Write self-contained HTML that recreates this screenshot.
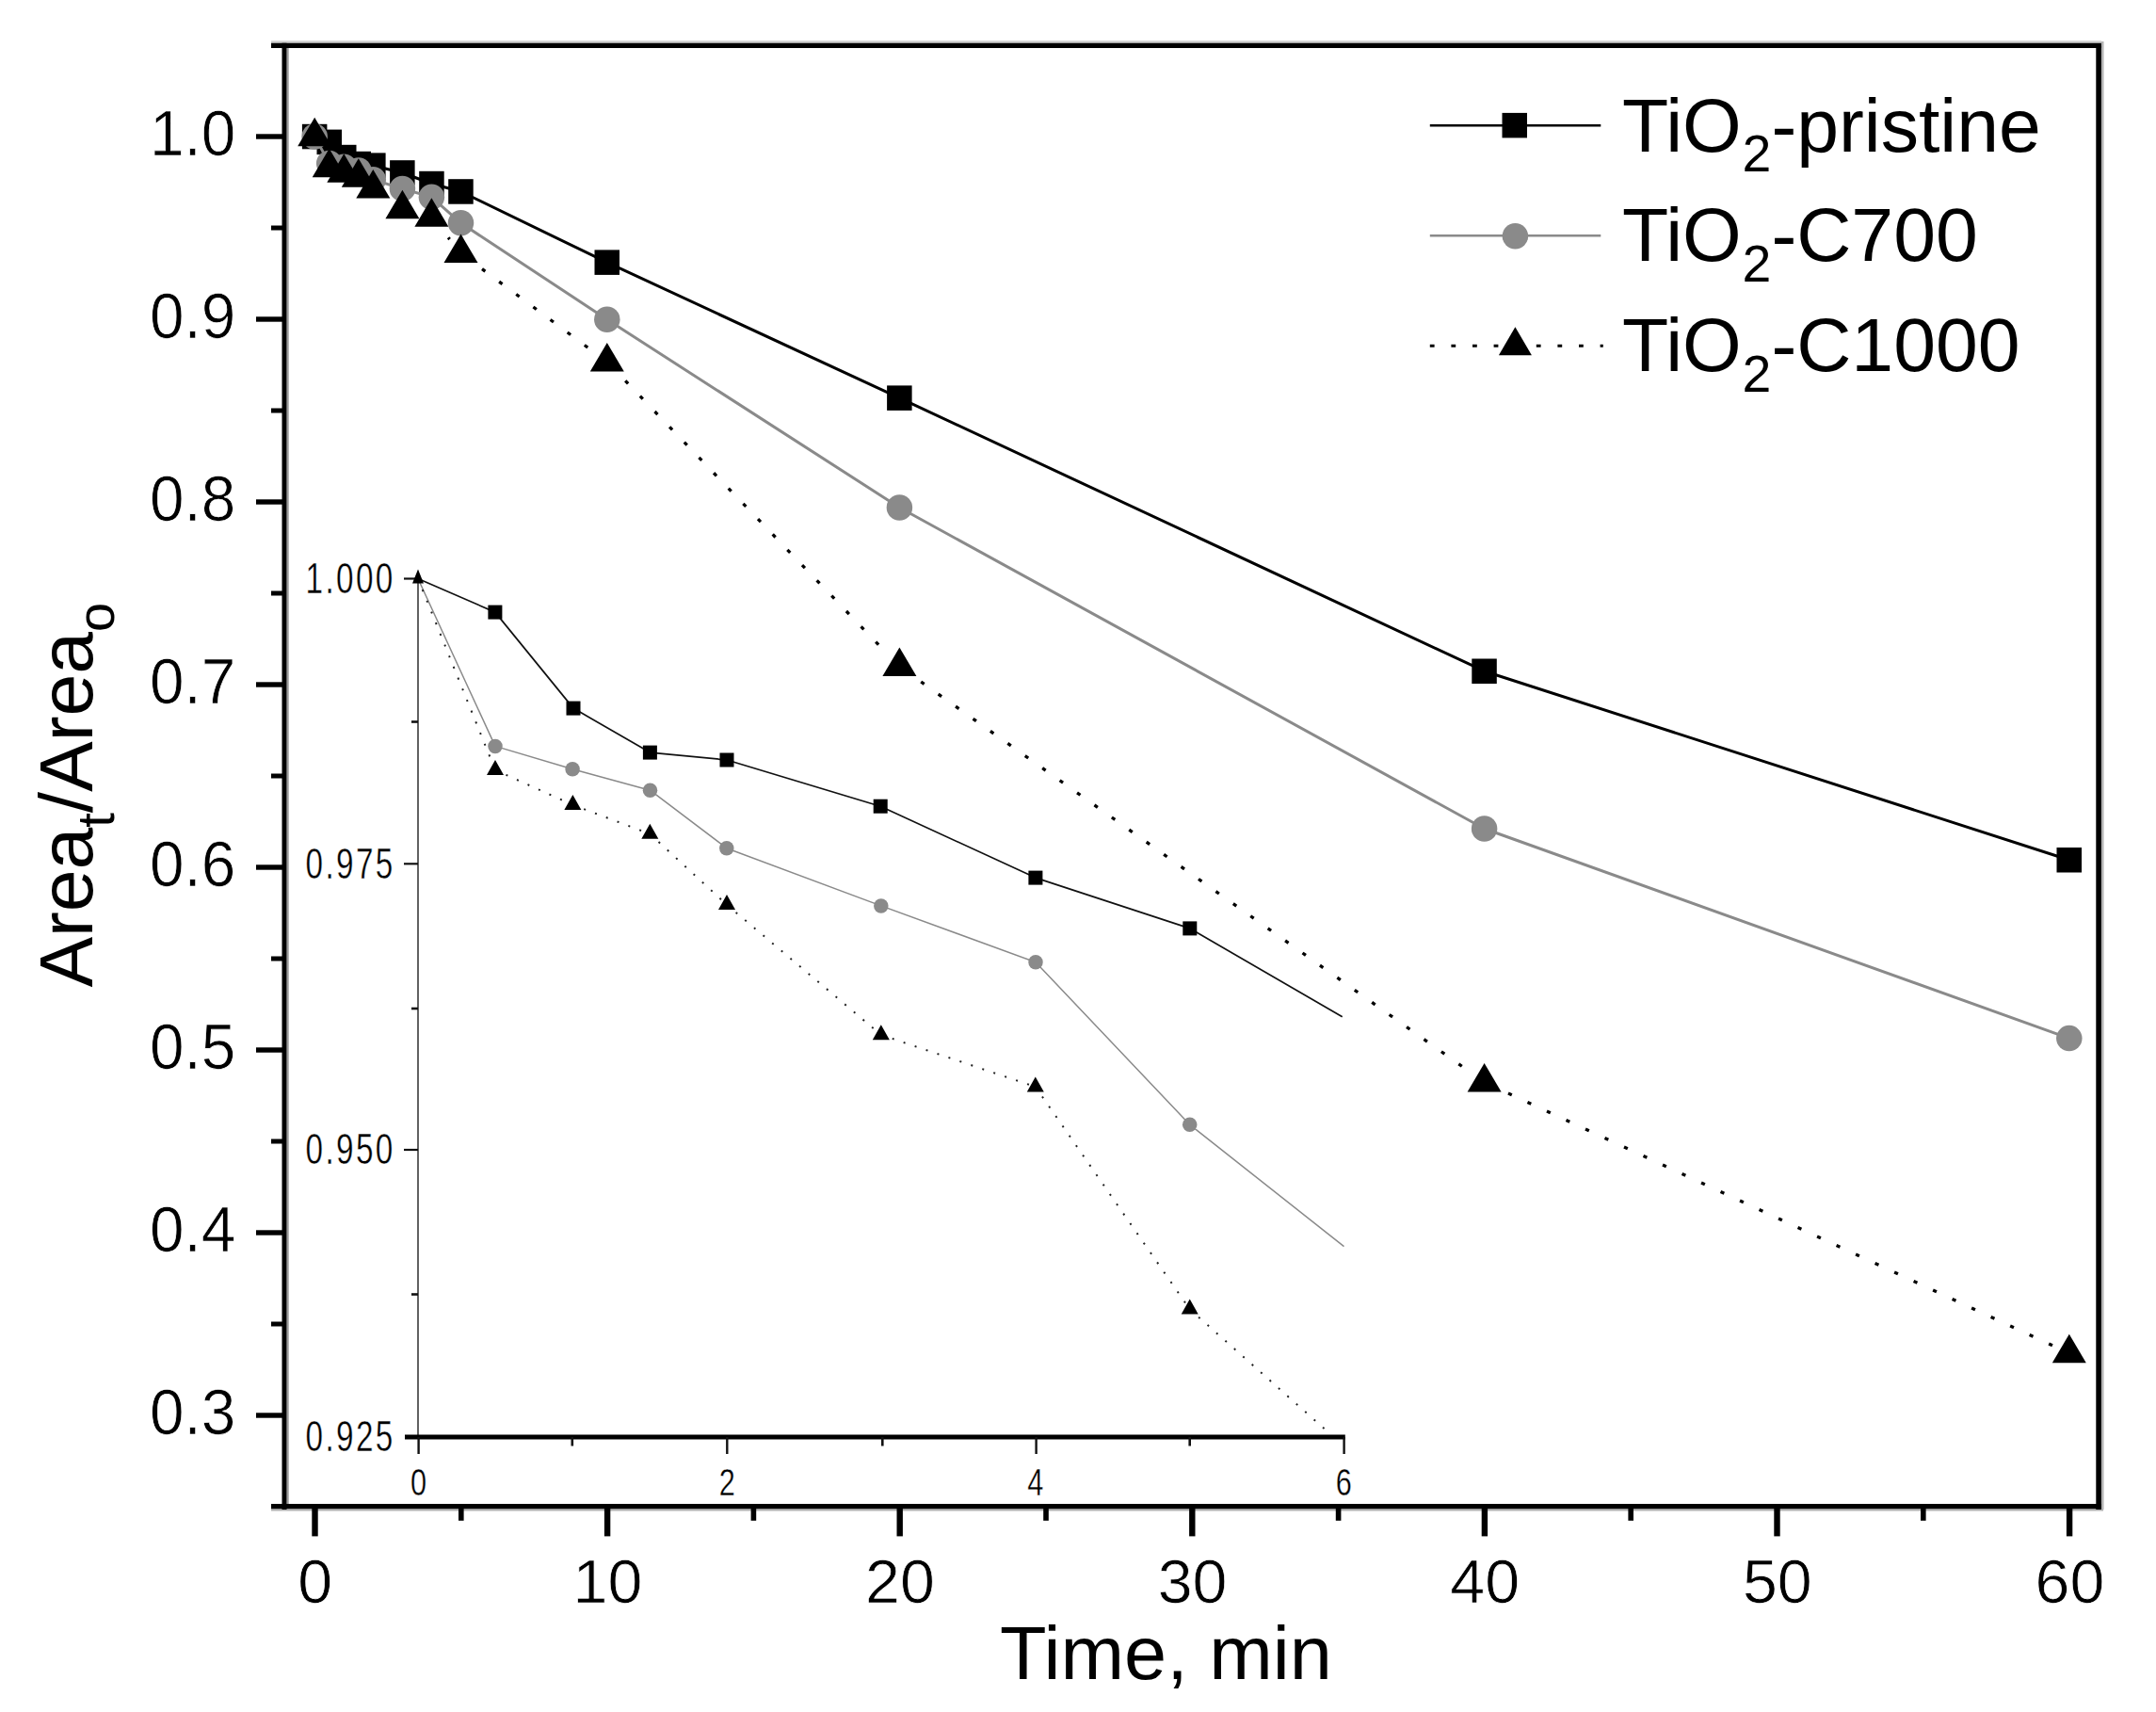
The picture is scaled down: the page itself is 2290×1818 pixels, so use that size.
<!DOCTYPE html>
<html lang="en"><head><meta charset="utf-8"><title>Area ratio vs time</title>
<style>html,body{margin:0;padding:0;background:#fff}svg{display:block}text{font-family:"Liberation Sans", Arial, Helvetica, sans-serif;fill:#000}</style></head><body>
<svg width="2290" height="1818" viewBox="0 0 2290 1818">
<rect width="2290" height="1818" fill="#fff"/>
<path d="M288 44.6H2232" stroke="#cfcfcf" stroke-width="2.6" fill="none"/>
<path d="M2233.2 44V1603" stroke="#b4b4b4" stroke-width="2.6" fill="none"/>
<path d="M305.6 51V1597" stroke="#9a9a9a" stroke-width="2.2" fill="none"/>
<path d="M288 1603.4H2234" stroke="#b0b0b0" stroke-width="2.2" fill="none"/>
<g id="inset-axes">
<path d="M444 613.5V1526" stroke="#3a3a3a" stroke-width="1.6" fill="none"/>
<path d="M430 1526.1H1428.8" stroke="#000" stroke-width="5" fill="none"/>
<path d="M429 614.5H444" stroke="#111" stroke-width="2.2" fill="none"/>
<path d="M429 917.3H444" stroke="#111" stroke-width="2.2" fill="none"/>
<path d="M429 1221H444" stroke="#111" stroke-width="2.2" fill="none"/>
<path d="M437 766.5H444" stroke="#111" stroke-width="2.6" fill="none"/>
<path d="M437 1071H444" stroke="#111" stroke-width="2.6" fill="none"/>
<path d="M437 1374.5H444" stroke="#111" stroke-width="2.6" fill="none"/>
<path d="M444.6 1526V1544" stroke="#111" stroke-width="2.4" fill="none"/>
<path d="M772.3 1526V1544" stroke="#111" stroke-width="2.4" fill="none"/>
<path d="M1100.6 1526V1544" stroke="#111" stroke-width="2.4" fill="none"/>
<path d="M1427.6 1526V1544" stroke="#111" stroke-width="2.4" fill="none"/>
<path d="M607.8 1526V1535.5" stroke="#111" stroke-width="2.6" fill="none"/>
<path d="M937.3 1526V1535.5" stroke="#111" stroke-width="2.6" fill="none"/>
<path d="M1263.7 1526V1535.5" stroke="#111" stroke-width="2.6" fill="none"/>
</g>
<g id="inset-labels" font-size="37" stroke="#fff" stroke-width="0.35">
<text transform="translate(419.6 629.9) scale(0.9 1.26)" text-anchor="end" letter-spacing="2.6">1.000</text>
<text transform="translate(419.6 932.7) scale(0.9 1.26)" text-anchor="end" letter-spacing="2.6">0.975</text>
<text transform="translate(419.6 1236.4) scale(0.9 1.26)" text-anchor="end" letter-spacing="2.6">0.950</text>
<text transform="translate(419.6 1540.7) scale(0.9 1.26)" text-anchor="end" letter-spacing="2.6">0.925</text>
<text transform="translate(444.5 1588.2) scale(0.83 1.10)" text-anchor="middle">0</text>
<text transform="translate(772.3 1588.2) scale(0.83 1.10)" text-anchor="middle">2</text>
<text transform="translate(1099.8 1588.2) scale(0.83 1.10)" text-anchor="middle">4</text>
<text transform="translate(1427.3 1588.2) scale(0.83 1.10)" text-anchor="middle">6</text>
</g>
<g id="inset-series">
<path d="M444.0 614.5L525.9 650.1M525.9 650.1L609.0 752.1M609.0 752.1L690.4 799.1M690.4 799.1L772.0 807.0M772.0 807.0L935.2 856.2M935.2 856.2L1099.9 932.1M1099.9 932.1L1263.8 985.9M1263.8 985.9L1425.7 1079.8" fill="none" stroke="#111" stroke-width="1.7"/>
<rect x="518.4" y="642.6" width="15" height="15" fill="#000"/>
<rect x="601.5" y="744.6" width="15" height="15" fill="#000"/>
<rect x="682.9" y="791.6" width="15" height="15" fill="#000"/>
<rect x="764.5" y="799.5" width="15" height="15" fill="#000"/>
<rect x="927.7" y="848.7" width="15" height="15" fill="#000"/>
<rect x="1092.4" y="924.6" width="15" height="15" fill="#000"/>
<rect x="1256.3" y="978.4" width="15" height="15" fill="#000"/>
<path d="M444.0 614.5L526.0 792.4M526.0 792.4L608.1 816.7M608.1 816.7L690.5 839.2M690.5 839.2L771.8 900.7M771.8 900.7L935.8 961.9M935.8 961.9L1100.0 1021.8M1100.0 1021.8L1263.7 1194.3M1263.7 1194.3L1427.5 1323.6" fill="none" stroke="#8a8a8a" stroke-width="1.5"/>
<circle cx="526.0" cy="792.4" r="7.75" fill="#8a8a8a"/>
<circle cx="608.1" cy="816.7" r="7.75" fill="#8a8a8a"/>
<circle cx="690.5" cy="839.2" r="7.75" fill="#8a8a8a"/>
<circle cx="771.8" cy="900.7" r="7.75" fill="#8a8a8a"/>
<circle cx="935.8" cy="961.9" r="7.75" fill="#8a8a8a"/>
<circle cx="1100.0" cy="1021.8" r="7.75" fill="#8a8a8a"/>
<circle cx="1263.7" cy="1194.3" r="7.75" fill="#8a8a8a"/>
<path d="M444.0 614.5L526.0 817.7M526.0 817.7L608.4 854.7M608.4 854.7L690.3 885.5M690.3 885.5L772.0 960.8M772.0 960.8L935.8 1098.9M935.8 1098.9L1099.8 1154.1M1099.8 1154.1L1263.7 1390.3M1263.7 1390.3L1413.2 1523.0" fill="none" stroke="#222" stroke-width="2.0" stroke-dasharray="2 10.6"/>
<path d="M444.0 604.5L450.0 619.5L438.0 619.5Z" fill="#000"/>
<path d="M526.0 807.0L535.0 823.0L517.0 823.0Z" fill="#000"/>
<path d="M608.4 844.0L617.4 860.0L599.4 860.0Z" fill="#000"/>
<path d="M690.3 874.8L699.3 890.8L681.3 890.8Z" fill="#000"/>
<path d="M772.0 950.1L781.0 966.1L763.0 966.1Z" fill="#000"/>
<path d="M935.8 1088.2L944.8 1104.2L926.8 1104.2Z" fill="#000"/>
<path d="M1099.8 1143.4L1108.8 1159.4L1090.8 1159.4Z" fill="#000"/>
<path d="M1263.7 1379.6L1272.7 1395.6L1254.7 1395.6Z" fill="#000"/>
</g>
<g id="main-series">
<path d="M334.2 145.0L349.7 150.8M349.7 150.8L365.3 167.1M365.3 167.1L380.8 174.0M380.8 174.0L396.3 175.7M396.3 175.7L427.4 183.5M427.4 183.5L458.4 195.0M458.4 195.0L489.5 203.5M489.5 203.5L644.8 278.7M644.8 278.7L955.4 422.6M955.4 422.6L1576.6 712.7M1576.6 712.7L2197.8 913.3" fill="none" stroke="#000" stroke-width="3.0"/>
<rect x="320.9" y="131.8" width="26.5" height="26.5" fill="#000"/>
<rect x="336.5" y="137.6" width="26.5" height="26.5" fill="#000"/>
<rect x="352.0" y="153.8" width="26.5" height="26.5" fill="#000"/>
<rect x="367.5" y="160.8" width="26.5" height="26.5" fill="#000"/>
<rect x="383.1" y="162.4" width="26.5" height="26.5" fill="#000"/>
<rect x="414.1" y="170.2" width="26.5" height="26.5" fill="#000"/>
<rect x="445.2" y="181.8" width="26.5" height="26.5" fill="#000"/>
<rect x="476.2" y="190.2" width="26.5" height="26.5" fill="#000"/>
<rect x="631.5" y="265.4" width="26.5" height="26.5" fill="#000"/>
<rect x="942.1" y="409.4" width="26.5" height="26.5" fill="#000"/>
<rect x="1563.3" y="699.5" width="26.5" height="26.5" fill="#000"/>
<rect x="2184.5" y="900.0" width="26.5" height="26.5" fill="#000"/>
<path d="M334.2 145.0L349.7 173.4M349.7 173.4L365.3 177.3M365.3 177.3L380.8 180.9M380.8 180.9L396.3 190.7M396.3 190.7L427.4 200.4M427.4 200.4L458.4 209.3M458.4 209.3L489.5 236.8M489.5 236.8L644.8 339.3M644.8 339.3L955.4 539.0M955.4 539.0L1576.6 880.0M1576.6 880.0L2197.8 1102.6" fill="none" stroke="#8a8a8a" stroke-width="3.0"/>
<circle cx="334.2" cy="145.0" r="13.75" fill="#8a8a8a"/>
<circle cx="349.7" cy="173.4" r="13.75" fill="#8a8a8a"/>
<circle cx="365.3" cy="177.3" r="13.75" fill="#8a8a8a"/>
<circle cx="380.8" cy="180.9" r="13.75" fill="#8a8a8a"/>
<circle cx="396.3" cy="190.7" r="13.75" fill="#8a8a8a"/>
<circle cx="427.4" cy="200.4" r="13.75" fill="#8a8a8a"/>
<circle cx="458.4" cy="209.3" r="13.75" fill="#8a8a8a"/>
<circle cx="489.5" cy="236.8" r="13.75" fill="#8a8a8a"/>
<circle cx="644.8" cy="339.3" r="13.75" fill="#8a8a8a"/>
<circle cx="955.4" cy="539.0" r="13.75" fill="#8a8a8a"/>
<circle cx="1576.6" cy="880.0" r="13.75" fill="#8a8a8a"/>
<circle cx="2197.8" cy="1102.6" r="13.75" fill="#8a8a8a"/>
<path d="M470.4 245.3L477.6 254.1M504.8 280.2L629.5 372.9M658.0 397.9L942.2 694.1M970.9 718.8L1561.1 1138.2M1593.8 1157.2L2180.6 1429.0" fill="none" stroke="#000" stroke-width="3.3" stroke-dasharray="4.2 18.4" stroke-dashoffset="13.6"/>
<path d="M334.2 124.7L352.2 155.2L316.2 155.2Z" fill="#000"/>
<path d="M349.7 157.7L367.7 188.2L331.7 188.2Z" fill="#000"/>
<path d="M365.3 163.2L383.3 193.7L347.3 193.7Z" fill="#000"/>
<path d="M380.8 168.3L398.8 198.8L362.8 198.8Z" fill="#000"/>
<path d="M396.3 180.0L414.3 210.5L378.3 210.5Z" fill="#000"/>
<path d="M427.4 201.7L445.4 232.2L409.4 232.2Z" fill="#000"/>
<path d="M458.4 210.2L476.4 240.7L440.4 240.7Z" fill="#000"/>
<path d="M489.5 248.6L507.5 279.1L471.5 279.1Z" fill="#000"/>
<path d="M644.8 363.9L662.8 394.4L626.8 394.4Z" fill="#000"/>
<path d="M955.4 687.5L973.4 718.0L937.4 718.0Z" fill="#000"/>
<path d="M1576.6 1128.9L1594.6 1159.4L1558.6 1159.4Z" fill="#000"/>
<path d="M2197.8 1416.7L2215.8 1447.2L2179.8 1447.2Z" fill="#000"/>
</g>
<g id="frame" stroke="#000" fill="none">
<path d="M288 48.4H2231.9" stroke-width="5.2"/>
<path d="M2229.1 48.4V1603.0" stroke-width="5.6"/>
<path d="M302.0 45.8V1603.0" stroke-width="5"/>
<path d="M288 1599.6H2231.9" stroke-width="5.4"/>
</g>
<g id="ticks" stroke="#000" fill="none">
<path d="M272 145.0H302.0" stroke-width="5.4"/>
<path d="M272 339.0H302.0" stroke-width="5.4"/>
<path d="M272 533.0H302.0" stroke-width="5.4"/>
<path d="M272 727.0H302.0" stroke-width="5.4"/>
<path d="M272 921.0H302.0" stroke-width="5.4"/>
<path d="M272 1115.0H302.0" stroke-width="5.4"/>
<path d="M272 1309.0H302.0" stroke-width="5.4"/>
<path d="M272 1503.0H302.0" stroke-width="5.4"/>
<path d="M288 242.0H302.0" stroke-width="5"/>
<path d="M288 436.0H302.0" stroke-width="5"/>
<path d="M288 630.0H302.0" stroke-width="5"/>
<path d="M288 824.0H302.0" stroke-width="5"/>
<path d="M288 1018.0H302.0" stroke-width="5"/>
<path d="M288 1212.0H302.0" stroke-width="5"/>
<path d="M288 1406.0H302.0" stroke-width="5"/>
<path d="M334.5 1600.0V1631.4" stroke-width="6.4"/>
<path d="M645.1 1600.0V1631.4" stroke-width="6.4"/>
<path d="M955.7 1600.0V1631.4" stroke-width="6.4"/>
<path d="M1266.3 1600.0V1631.4" stroke-width="6.4"/>
<path d="M1576.9 1600.0V1631.4" stroke-width="6.4"/>
<path d="M1887.5 1600.0V1631.4" stroke-width="6.4"/>
<path d="M2198.1 1600.0V1631.4" stroke-width="6.4"/>
<path d="M489.8 1600.0V1614.8" stroke-width="5.6"/>
<path d="M800.4 1600.0V1614.8" stroke-width="5.6"/>
<path d="M1111.0 1600.0V1614.8" stroke-width="5.6"/>
<path d="M1421.6 1600.0V1614.8" stroke-width="5.6"/>
<path d="M1732.2 1600.0V1614.8" stroke-width="5.6"/>
<path d="M2042.8 1600.0V1614.8" stroke-width="5.6"/>
</g>
<g id="tick-labels" font-size="65.7" stroke="#fff" stroke-width="0.7">
<text transform="translate(250.4 165.2) scale(1 1.045)" text-anchor="end">1.0</text>
<text transform="translate(250.4 359.2) scale(1 1.045)" text-anchor="end">0.9</text>
<text transform="translate(250.4 553.2) scale(1 1.045)" text-anchor="end">0.8</text>
<text transform="translate(250.4 747.2) scale(1 1.045)" text-anchor="end">0.7</text>
<text transform="translate(250.4 941.2) scale(1 1.045)" text-anchor="end">0.6</text>
<text transform="translate(250.4 1135.2) scale(1 1.045)" text-anchor="end">0.5</text>
<text transform="translate(250.4 1329.2) scale(1 1.045)" text-anchor="end">0.4</text>
<text transform="translate(250.4 1523.2) scale(1 1.045)" text-anchor="end">0.3</text>
<text transform="translate(334.8 1702.2) scale(1.01 1.0)" text-anchor="middle">0</text>
<text transform="translate(645.4 1702.2) scale(1.01 1.0)" text-anchor="middle">10</text>
<text transform="translate(956.0 1702.2) scale(1.01 1.0)" text-anchor="middle">20</text>
<text transform="translate(1266.6 1702.2) scale(1.01 1.0)" text-anchor="middle">30</text>
<text transform="translate(1577.2 1702.2) scale(1.01 1.0)" text-anchor="middle">40</text>
<text transform="translate(1887.8 1702.2) scale(1.01 1.0)" text-anchor="middle">50</text>
<text transform="translate(2198.4 1702.2) scale(1.01 1.0)" text-anchor="middle">60</text>
</g>
<text transform="translate(1238.4 1783.2) scale(1.019 1)" font-size="79.6" text-anchor="middle">Time, min</text>
<text transform="translate(97.6 1048.6) rotate(-90)" font-size="80.4">Area<tspan font-size="56" dy="23">t</tspan><tspan dy="-23">/Area</tspan><tspan font-size="56" dy="23">o</tspan></text>
<g id="legend">
<path d="M1518.8 133.2H1700.3" stroke="#000" stroke-width="2.4" fill="none"/>
<rect x="1595.5" y="119.9" width="26.5" height="26.5" fill="#000"/>
<path d="M1518.8 250.3H1700.3" stroke="#8a8a8a" stroke-width="2.6" fill="none"/>
<circle cx="1609.4" cy="250.7" r="13.75" fill="#8a8a8a"/>
<path d="M1518.8 367.3H1702.8" stroke="#000" stroke-width="3.1" stroke-dasharray="4.8 17.8" fill="none"/>
<path d="M1609.4 347.3L1626.9 377.3L1591.9 377.3Z" fill="#000"/>
<text transform="translate(1723 161.2) scale(1.007 1)" font-size="80">TiO<tspan font-size="55" dx="0.8" dy="21.2">2</tspan><tspan dy="-21.2">-pristine</tspan></text>
<text transform="translate(1723 277.4) scale(1.007 1)" font-size="80">TiO<tspan font-size="55" dx="0.8" dy="21.2">2</tspan><tspan dy="-21.2">-C700</tspan></text>
<text transform="translate(1723 394.3) scale(1.007 1)" font-size="80">TiO<tspan font-size="55" dx="0.8" dy="21.2">2</tspan><tspan dy="-21.2">-C1000</tspan></text>
</g>
</svg></body></html>
